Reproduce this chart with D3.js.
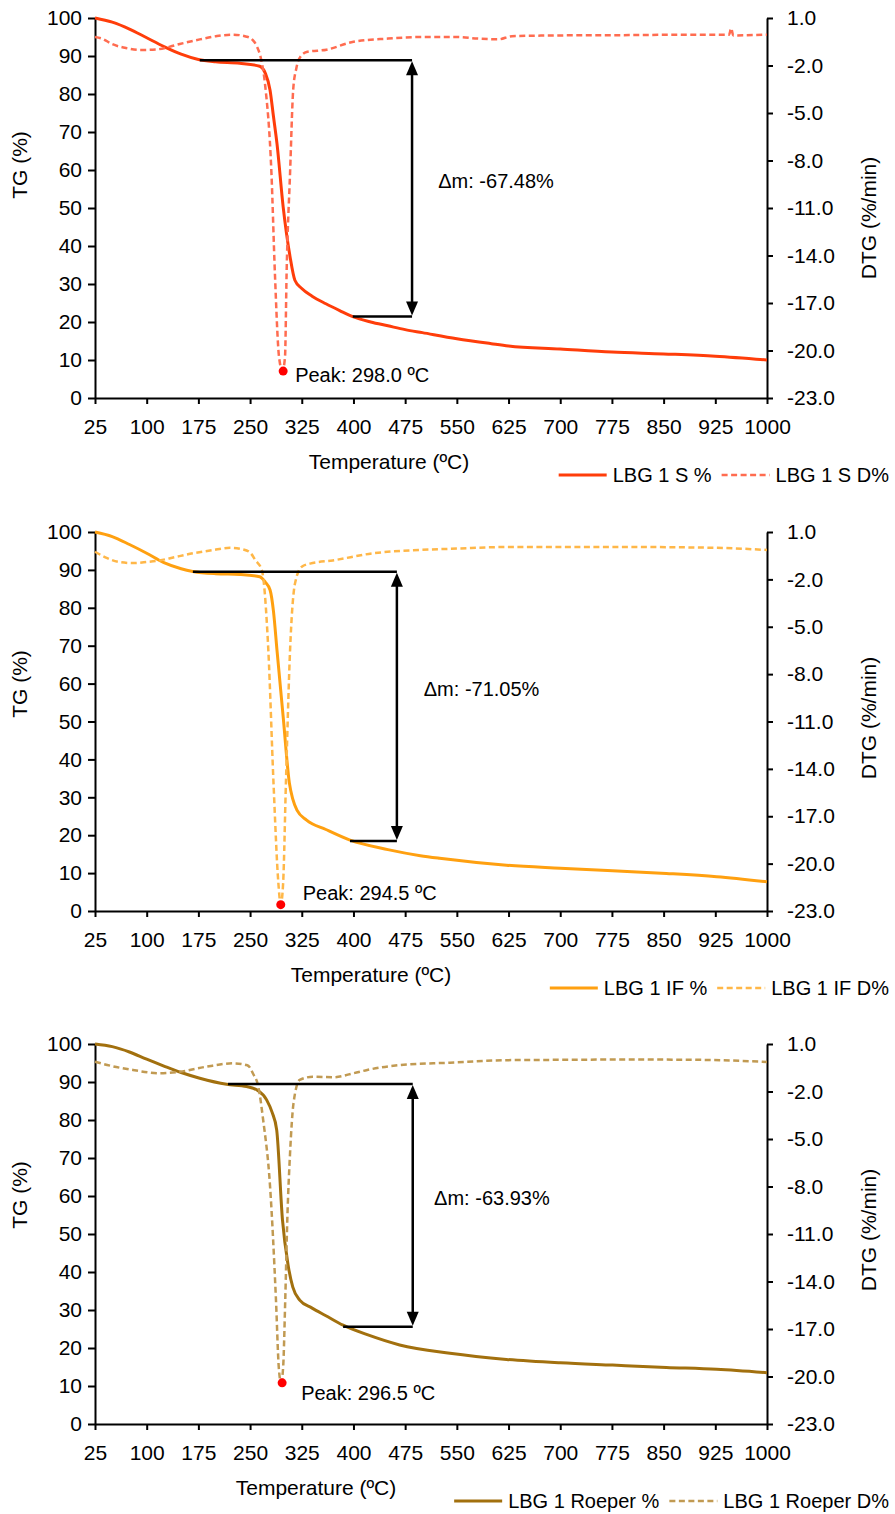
<!DOCTYPE html>
<html>
<head>
<meta charset="utf-8">
<script src="https://cdn.jsdelivr.net/npm/d3@7"></script>
<style>
  body { margin: 0; background: #fff; }
  svg { font-family: "Liberation Sans", Arial, sans-serif; }
</style>
</head>
<body>
<svg id="chart" width="895" height="1514"></svg>
<script>
// axis ticks
const xTicks = [25, 100, 175, 250, 325, 400, 475, 550, 625, 700, 775, 850, 925, 1000];
const tgTicks = [0, 10, 20, 30, 40, 50, 60, 70, 80, 90, 100];
const dtgTicks = [1, -2, -5, -8, -11, -14, -17, -20, -23];

// LBG 1 S
const sTgT = [25, 50, 75, 100, 125, 150, 175, 200, 235, 264, 272, 279, 284, 289, 298, 308, 315, 325, 340, 360, 380, 399, 425, 450, 475, 500, 550, 600, 625, 700, 775, 850, 925, 1000];
const sTg = [100, 98.9, 97.1, 94.8, 92.5, 90.5, 89.1, 88.5, 88.1, 87.3, 85.5, 81, 74, 67, 50.3, 37.2, 31, 28.8, 26.8, 24.8, 23, 21.4, 20, 19, 18, 17.2, 15.6, 14.3, 13.7, 12.9, 12.1, 11.6, 11, 10];
const sDtgT = [25, 35, 50, 70, 90, 115, 148, 177, 202, 225, 245, 254, 260, 266, 272, 281, 286, 292, 297, 300.7, 303, 308, 312.6, 317, 321, 332, 361, 400, 450, 500, 550, 580, 610, 630, 700, 800, 900, 945, 948, 951, 1000];
const sDtg = [-0.2, -0.3, -0.65, -0.9, -1.02, -0.98, -0.64, -0.35, -0.14, -0.05, -0.18, -0.4, -0.8, -1.6, -3.3, -8.8, -15.1, -20.4, -21.3, -20.4, -15.1, -8.8, -3.5, -2.2, -1.6, -1.15, -1.0, -0.5, -0.3, -0.2, -0.2, -0.3, -0.35, -0.15, -0.1, -0.08, -0.05, -0.05, 0.35, -0.1, -0.05];

// LBG 1 IF
const ifTgT = [25, 50, 75, 100, 125, 150, 167, 200, 235, 264, 272, 279, 284, 289, 298, 307, 312, 318, 332, 360, 395, 450, 497, 525, 622, 700, 776, 854, 927, 1000];
const ifTg = [100, 98.8, 96.7, 94.4, 91.9, 90.3, 89.6, 89, 88.8, 88.2, 86.8, 84.7, 79, 68.9, 51.3, 33.8, 29.5, 26.6, 24, 21.5, 18.7, 16.2, 14.6, 13.9, 12.1, 11.3, 10.6, 9.9, 9.05, 7.7];
const ifDtgT = [25, 40, 60, 80, 100, 119, 140, 167, 195, 221, 240, 250, 258, 267, 276.5, 284, 291, 294.5, 298, 302, 308, 315, 325, 337, 370, 428, 496, 550, 625, 700, 800, 925, 1000];
const ifDtg = [-0.25, -0.6, -0.9, -0.97, -0.9, -0.8, -0.6, -0.35, -0.15, 0.0, -0.1, -0.3, -0.8, -1.4, -6.5, -14.9, -21.2, -22.6, -21.2, -14.9, -6.5, -2.3, -1.2, -1.0, -0.8, -0.35, -0.14, -0.05, 0.05, 0.05, 0.05, 0.0, -0.14];

// LBG 1 Roeper
const rTgT = [25, 50, 75, 100, 125, 150, 177, 216, 245, 260, 274, 282, 288.6, 297, 305, 312, 322, 340, 360, 385, 420, 467, 540, 622, 700, 776, 854, 927, 1000];
const rTg = [100, 99.3, 97.9, 96, 94.2, 92.5, 91, 89.4, 88.8, 87.9, 85.3, 82, 77.4, 53.7, 42, 36, 32.6, 30.5, 28.5, 26, 23.5, 20.8, 18.6, 17, 16.1, 15.5, 14.9, 14.4, 13.5];
const rDtgT = [25, 50, 80, 119, 148, 187, 225, 245, 250, 254, 262, 269, 279, 287.6, 291.6, 295, 298, 301, 304, 308, 313, 322, 341, 370, 400, 420, 468, 540, 625, 700, 800, 900, 1000];
const rDtg = [-0.12, -0.4, -0.64, -0.85, -0.75, -0.43, -0.22, -0.33, -0.5, -0.85, -1.7, -3.8, -8.0, -15.2, -19.4, -20.4, -19.4, -15.2, -10.1, -5.9, -2.75, -1.27, -1.07, -1.1, -0.85, -0.64, -0.33, -0.18, -0.02, 0.0, 0.02, 0.0, -0.13];

const names = ["LBG 1 S", "LBG 1 IF", "LBG 1 Roeper"];
const peakTemps = [298.0, 294.5, 296.5];
const peakDtg = [-21.3, -22.6, -20.4];
const massLoss = [-67.48, -71.05, -63.93];
const stepTop = [88.9, 89.5, 89.5];       // TG level where the step starts
const stepTopFrom = [177, 167, 218];      // temperature where the upper line starts
const stepBottomFrom = [399, 395, 385];   // temperature where the lower line starts
const stepArrowAt = [485, 463, 486];      // temperature of the double arrow

// layout
const panelTop = [18, 532, 1044];
const panelBottom = [398, 911, 1424];
const plotLeft = 95, plotRight = 767;
const solidColors = ["#ff3d0a", "#ffa010", "#a2700e"];
const dashColors = ["#ff6c50", "#ffb748", "#c19a52"];
const xTitleCenter = [389, 371, 316];
const tgTitleCenter = [165, 684, 1195];
const dtgTitleCenter = [218, 718, 1230];
const dmLabelAt = [[523, 57.1], [502, 58.6], [517, 59.5]];
const peakLabelOffset = [[12, 4], [22, -12], [19, 10]];

const svg = d3.select("#chart");
svg.append("rect").attr("width", 895).attr("height", 1514).attr("fill", "#fff");

const series = [
  [sTgT, sTg, sDtgT, sDtg],
  [ifTgT, ifTg, ifDtgT, ifDtg],
  [rTgT, rTg, rDtgT, rDtg]
];

function styleAxis(sel) {
  sel.attr("font-size", 21).attr("font-family", null);
  sel.select(".domain").attr("stroke", "#000").attr("stroke-width", 2);
  sel.selectAll(".tick line").attr("stroke", "#000").attr("stroke-width", 2);
  sel.selectAll(".tick text").attr("fill", "#000");
}

series.forEach((s, i) => {
  const top = panelTop[i], bottom = panelBottom[i];
  const x = d3.scaleLinear().domain([25, 1000]).range([plotLeft, plotRight]);
  const y = d3.scaleLinear().domain([0, 100]).range([bottom, top]);
  const y2 = d3.scaleLinear().domain([-23, 1]).range([bottom, top]);
  const g = svg.append("g");

  g.append("g")
    .attr("transform", `translate(0,${bottom})`)
    .call(d3.axisBottom(x).tickValues(xTicks).tickSize(6).tickPadding(15).tickSizeOuter(0)
      .tickFormat(d => String(d)))
    .call(styleAxis);

  g.append("g")
    .attr("transform", `translate(${plotLeft},0)`)
    .call(d3.axisLeft(y).tickValues(tgTicks).tickSize(7).tickPadding(6).tickSizeOuter(0))
    .call(styleAxis);

  g.append("g")
    .attr("transform", `translate(${plotRight},0)`)
    .call(d3.axisRight(y2).tickValues(dtgTicks).tickSize(6).tickPadding(14).tickSizeOuter(0)
      .tickFormat(d => d.toFixed(1)))
    .call(styleAxis);

  // axis titles
  g.append("text")
    .attr("x", xTitleCenter[i]).attr("y", bottom + 71)
    .attr("text-anchor", "middle").attr("font-size", 21)
    .text("Temperature (ºC)");

  g.append("text")
    .attr("transform", `translate(27,${tgTitleCenter[i]}) rotate(-90)`)
    .attr("text-anchor", "middle").attr("font-size", 21)
    .text("TG (%)");

  g.append("text")
    .attr("transform", `translate(876,${dtgTitleCenter[i]}) rotate(-90)`)
    .attr("text-anchor", "middle").attr("font-size", 21)
    .text("DTG (%/min)");

  // curves
  const tgLine = d3.line().x(d => x(d[0])).y(d => y(d[1])).curve(d3.curveMonotoneX);
  const dtgLine = d3.line().x(d => x(d[0])).y(d => y2(d[1])).curve(d3.curveMonotoneX);

  g.append("path")
    .datum(d3.zip(s[0], s[1]))
    .attr("d", tgLine)
    .attr("fill", "none")
    .attr("stroke", solidColors[i])
    .attr("stroke-width", 3);

  g.append("path")
    .datum(d3.zip(s[2], s[3]))
    .attr("d", dtgLine)
    .attr("fill", "none")
    .attr("stroke", dashColors[i])
    .attr("stroke-width", 2.5)
    .attr("stroke-dasharray", "6,3.5");

  // mass loss bracket
  const bottomLevel = stepTop[i] + massLoss[i];
  const ax = x(stepArrowAt[i]);
  const yTop = y(stepTop[i]), yBot = y(bottomLevel);
  g.append("line")
    .attr("x1", x(stepTopFrom[i])).attr("x2", ax)
    .attr("y1", yTop).attr("y2", yTop)
    .attr("stroke", "#000").attr("stroke-width", 2.5);
  g.append("line")
    .attr("x1", x(stepBottomFrom[i])).attr("x2", ax)
    .attr("y1", yBot).attr("y2", yBot)
    .attr("stroke", "#000").attr("stroke-width", 2.5);
  g.append("line")
    .attr("x1", ax).attr("x2", ax)
    .attr("y1", yTop + 10).attr("y2", yBot - 10)
    .attr("stroke", "#000").attr("stroke-width", 2.5);
  g.append("path")
    .attr("d", `M${ax},${yTop + 1}L${ax - 6},${yTop + 15}L${ax + 6},${yTop + 15}Z`)
    .attr("fill", "#000");
  g.append("path")
    .attr("d", `M${ax},${yBot - 1}L${ax - 6},${yBot - 15}L${ax + 6},${yBot - 15}Z`)
    .attr("fill", "#000");

  g.append("text")
    .attr("x", x(dmLabelAt[i][0])).attr("y", y(dmLabelAt[i][1]))
    .attr("dy", "0.35em").attr("font-size", 20)
    .text("Δm: " + massLoss[i].toFixed(2) + "%");

  // DTG peak
  const px = x(peakTemps[i]), py = y2(peakDtg[i]);
  g.append("circle")
    .attr("cx", px).attr("cy", py).attr("r", 4.5)
    .attr("fill", "#ff0000");
  g.append("text")
    .attr("x", px + peakLabelOffset[i][0]).attr("y", py + peakLabelOffset[i][1])
    .attr("dy", "0.35em").attr("font-size", 20)
    .text("Peak: " + peakTemps[i].toFixed(1) + " ºC");

  // legend, right aligned
  const leg = g.append("g");
  const ly = bottom + 77;
  let cx = 0;
  [[solidColors[i], null, names[i] + " %"], [dashColors[i], "6,3.5", names[i] + " D%"]].forEach((item, k) => {
    if (k > 0) cx += 10;
    leg.append("line")
      .attr("x1", cx).attr("x2", cx + 48)
      .attr("y1", 0).attr("y2", 0)
      .attr("stroke", item[0])
      .attr("stroke-width", item[1] ? 2.5 : 3)
      .attr("stroke-dasharray", item[1]);
    cx += 54;
    const t = leg.append("text")
      .attr("x", cx).attr("y", 0).attr("dy", "0.35em")
      .attr("font-size", 20)
      .text(item[2]);
    cx += t.node().getComputedTextLength();
  });
  leg.attr("transform", `translate(${889 - cx},${ly})`);
});
</script>
</body>
</html>
